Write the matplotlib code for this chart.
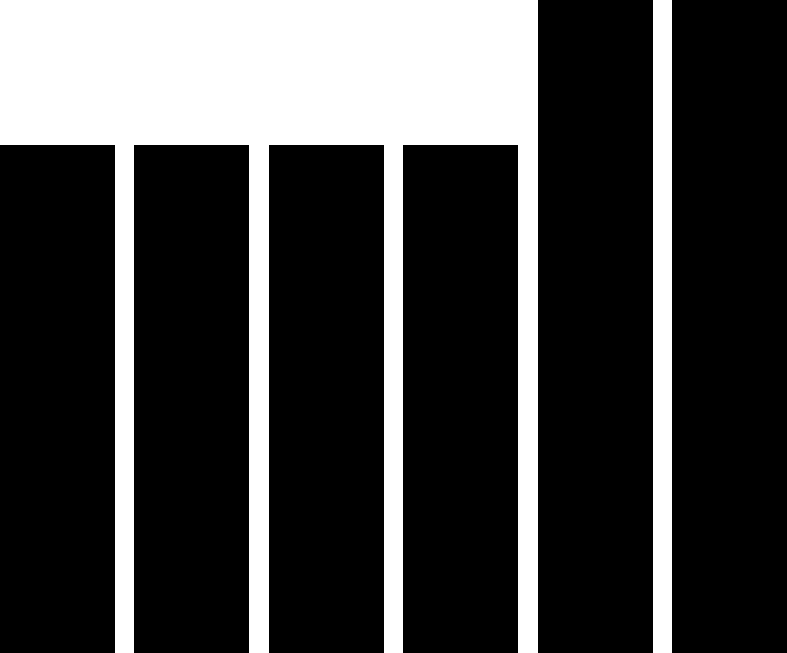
import matplotlib
matplotlib.use("Agg")
import matplotlib.pyplot as plt

# six bars, no labels in the picture
positions = [0, 1, 2, 3, 4, 5]
values = [7, 7, 7, 7, 9, 9]

fig = plt.figure(figsize=(7.87, 6.53), dpi=100)
ax = fig.add_axes([0, 0, 1, 1])

bar_width = 0.855
ax.bar(positions, values, width=bar_width, color="black")

ax.set_xlim(-bar_width / 2, positions[-1] + bar_width / 2)
ax.set_ylim(0, max(values))
ax.axis("off")

fig.savefig("out.png", dpi=100)
